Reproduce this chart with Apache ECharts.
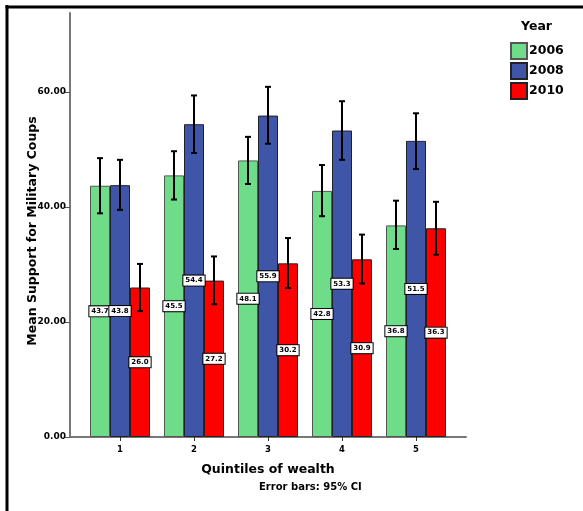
<!DOCTYPE html>
<html>
<head>
<meta charset="utf-8">
<script src="https://cdn.jsdelivr.net/npm/echarts@6/dist/echarts.min.js"></script>
<style>
  html, body { margin: 0; padding: 0; background: #fff; }
  #chart { width: 583px; height: 511px; }
</style>
</head>
<body>
<div id="chart"></div>
<script>
// Mean support for military coups by wealth quintile and survey year
const quintiles = ['1', '2', '3', '4', '5'];
const years = ['2006', '2008', '2010'];

const mean2006 = [43.7, 45.5, 48.1, 42.8, 36.8];
const mean2008 = [43.8, 54.4, 55.9, 53.3, 51.5];
const mean2010 = [26.0, 27.2, 30.2, 30.9, 36.3];

// 95% confidence interval bounds
const lower2006 = [38.9, 41.3, 44.0, 38.4, 32.7];
const upper2006 = [48.5, 49.7, 52.2, 47.3, 41.1];
const lower2008 = [39.5, 49.4, 51.0, 48.2, 46.6];
const upper2008 = [48.2, 59.4, 60.9, 58.4, 56.3];
const lower2010 = [21.9, 23.1, 25.9, 26.7, 31.7];
const upper2010 = [30.1, 31.4, 34.6, 35.2, 40.9];

const yTicks = [0, 20, 40, 60];

const means = [mean2006, mean2008, mean2010];
const lowers = [lower2006, lower2008, lower2010];
const uppers = [upper2006, upper2008, upper2010];
const colors = ['#6fdc8a', '#3e55a8', '#ff0000'];
const borders = ['#555555', '#222222', '#222222'];

const BAR_W = 20;
const Y_MAX = 73.74;
const FONT = 'DejaVu Sans';

const chart = echarts.init(document.getElementById('chart'), null, { renderer: 'canvas' });

const barSeries = years.map((y, k) => ({
  name: y,
  type: 'bar',
  xAxisIndex: 0,
  yAxisIndex: 0,
  barWidth: BAR_W,
  barGap: '0%',
  data: means[k],
  itemStyle: { color: colors[k], borderColor: borders[k], borderWidth: 1 },
  label: {
    show: true,
    position: 'inside',
    formatter: p => p.value.toFixed(1),
    fontFamily: FONT,
    fontWeight: 'bold',
    fontSize: 7,
    color: '#000',
    backgroundColor: '#fff',
    borderColor: '#000',
    borderWidth: 1,
    padding: [2, 2, 1, 2]
  },
  z: 2
}));

const errSeries = years.map((y, k) => ({
  name: 'ci' + y,
  type: 'custom',
  xAxisIndex: 0,
  yAxisIndex: 0,
  z: 5,
  silent: true,
  encode: { x: 0, y: [1, 2] },
  data: quintiles.map((q, i) => [i, lowers[k][i], uppers[k][i]]),
  renderItem: (params, api) => {
    const i = api.value(0);
    const top = api.coord([i, api.value(2)]);
    const bot = api.coord([i, api.value(1)]);
    const x = top[0] + (k - 1) * BAR_W;
    const cap = 3;
    const style = { stroke: '#000', lineWidth: 2 };
    return {
      type: 'group',
      children: [
        { type: 'line', shape: { x1: x, y1: top[1], x2: x, y2: bot[1] }, style },
        { type: 'line', shape: { x1: x - cap, y1: top[1], x2: x + cap, y2: top[1] }, style },
        { type: 'line', shape: { x1: x - cap, y1: bot[1], x2: x + cap, y2: bot[1] }, style }
      ]
    };
  }
}));

chart.setOption({
  animation: false,
  backgroundColor: '#fff',
  title: [
    {
      text: 'Year', left: 521, top: 20, padding: 0,
      textStyle: { fontFamily: FONT, fontWeight: 'bold', fontSize: 12.5, color: '#000' }
    },
    {
      text: 'Error bars: 95% CI', left: 259, top: 482, padding: 0,
      textStyle: { fontFamily: FONT, fontWeight: 'bold', fontSize: 10, color: '#000' }
    }
  ],
  legend: {
    data: years,
    orient: 'vertical',
    left: 510,
    top: 42,
    padding: 0,
    itemWidth: 16,
    itemHeight: 16,
    itemGap: 2,
    icon: 'rect',
    textStyle: {
      fontFamily: FONT, fontWeight: 'bold', fontSize: 12.5, color: '#000',
      lineHeight: 16, padding: [0, 0, 0, -3]
    }
  },
  grid: [
    { left: 83, right: 130, top: 13, bottom: 74 },
    { left: 70, right: 117, top: 13, bottom: 74 }
  ],
  xAxis: [
    {
      type: 'category',
      gridIndex: 0,
      data: quintiles,
      axisLine: { show: false },
      axisTick: { show: true, alignWithLabel: true, length: 4, lineStyle: { color: '#333', width: 1 } },
      axisLabel: { fontFamily: FONT, fontWeight: 'bold', fontSize: 8.5, color: '#000', margin: 8 },
      name: 'Quintiles of wealth',
      nameLocation: 'middle',
      nameGap: 26,
      nameMoveOverlap: false,
      nameTextStyle: { fontFamily: FONT, fontWeight: 'bold', fontSize: 12.5, color: '#000' }
    },
    {
      type: 'value',
      gridIndex: 1,
      min: 0,
      max: 1,
      axisLine: { show: true, onZero: false, lineStyle: { color: '#777', width: 2 } },
      axisTick: { show: false },
      axisLabel: { show: false },
      splitLine: { show: false }
    }
  ],
  yAxis: [
    {
      type: 'value',
      gridIndex: 0,
      min: 0,
      max: Y_MAX,
      show: false,
      splitLine: { show: false }
    },
    {
      type: 'value',
      gridIndex: 1,
      min: 0,
      max: Y_MAX,
      axisLine: { show: true, lineStyle: { color: '#777', width: 2 } },
      axisTick: { show: true, length: 5, customValues: yTicks, lineStyle: { color: '#555', width: 1 } },
      axisLabel: {
        customValues: yTicks,
        formatter: v => v.toFixed(2),
        fontFamily: FONT, fontWeight: 'bold', fontSize: 9, color: '#000', margin: 4
      },
      splitLine: { show: false },
      name: 'Mean Support for Military Coups',
      nameLocation: 'middle',
      nameGap: 31,
      nameMoveOverlap: false,
      nameTextStyle: { fontFamily: FONT, fontWeight: 'bold', fontSize: 12.5, color: '#000', padding: [0, 12, 0, 0] }
    }
  ],
  graphic: [
    { type: 'line', shape: { x1: 7, y1: 5, x2: 7, y2: 511 }, style: { stroke: '#000', lineWidth: 3 } },
    { type: 'line', shape: { x1: 5.5, y1: 7, x2: 583, y2: 7 }, style: { stroke: '#000', lineWidth: 3 } }
  ],
  series: [...barSeries, ...errSeries]
});
</script>
</body>
</html>
